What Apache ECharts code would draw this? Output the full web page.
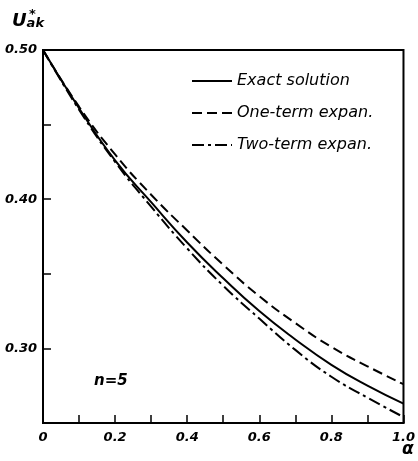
<!DOCTYPE html>
<html><head><meta charset="utf-8">
<script src="https://cdn.jsdelivr.net/npm/echarts@6/dist/echarts.min.js"></script>
<style>html,body{margin:0;padding:0;background:#fff}#c{width:418px;height:461px}</style>
</head><body><div id="c"></div>
<script>
const alpha = [0, 0.1, 0.2, 0.3, 0.4, 0.5, 0.6, 0.7, 0.8, 0.9, 1.0];
const exactSolution = [0.500, 0.461, 0.426, 0.398, 0.371, 0.347, 0.325, 0.306, 0.289, 0.275, 0.263];
const oneTerm = [0.500, 0.462, 0.430, 0.403, 0.379, 0.356, 0.335, 0.317, 0.301, 0.288, 0.276];
const twoTerm = [0.500, 0.460, 0.425, 0.395, 0.367, 0.342, 0.320, 0.299, 0.281, 0.267, 0.254];
const seriesNames = ['Exact solution', 'One-term expan.', 'Two-term expan.'];
const xTickLabels = ['0', '0.2', '0.4', '0.6', '0.8', '1.0'];
const yTickLabels = ['0.30', '0.40', '0.50'];

const font = '"DejaVu Sans", "Liberation Sans", sans-serif';
const pair = (xs, ys) => xs.map((x, i) => [x, ys[i]]);
const chart = echarts.init(document.getElementById('c'));
const tickStyle = { color: '#000', fontFamily: font, fontStyle: 'italic', fontWeight: 'bold', fontSize: 13 };
chart.setOption({
  animation: false,
  backgroundColor: '#fff',
  grid: { left: 43, right: 8, top: 50, bottom: 38, show: true, borderColor: '#000', borderWidth: 2, backgroundColor: 'transparent' },
  legend: {
    orient: 'vertical', left: 186, top: 68, itemWidth: 40, itemHeight: 12, itemGap: 16,
    data: seriesNames,
    itemStyle: { opacity: 0 },
    textStyle: { color: '#000', fontFamily: font, fontStyle: 'italic', fontSize: 16 }
  },
  xAxis: {
    type: 'value', min: 0, max: 1, interval: 0.1,
    axisLine: { lineStyle: { color: '#000', width: 2 } },
    axisTick: { inside: true, length: 8, lineStyle: { color: '#000', width: 1.5 } },
    splitLine: { show: false },
    axisLabel: {
      ...tickStyle, margin: 8,
      formatter: v => { const k = Math.round(v * 10); return k % 2 === 0 ? xTickLabels[k / 2] : ''; }
    }
  },
  yAxis: {
    type: 'value', min: 0.25, max: 0.5, interval: 0.05,
    axisLine: { lineStyle: { color: '#000', width: 2 } },
    axisTick: { inside: true, length: 8, lineStyle: { color: '#000', width: 1.5 } },
    splitLine: { show: false },
    axisLabel: {
      ...tickStyle, margin: 6,
      formatter: v => { const k = Math.round(v * 100); return k % 10 === 0 ? yTickLabels[(k - 30) / 10] : ''; }
    }
  },
  graphic: [
    { type: 'text', left: 12, top: 12, style: { rich: {
        u: { fontFamily: font, fontStyle: 'italic', fontWeight: 'bold', fontSize: 18, fill: '#000' },
        s: { fontFamily: font, fontStyle: 'italic', fontWeight: 'bold', fontSize: 13, fill: '#000', verticalAlign: 'bottom' }
      }, text: '{u|U}{s|ak}', fill: '#000' } },
    { type: 'text', left: 29, top: 8, style: { text: '*', fontFamily: font, fontWeight: 'bold', fontSize: 13, fill: '#000' } },
    { type: 'text', left: 402, top: 441, style: { text: 'α', fontFamily: font, fontStyle: 'italic', fontWeight: 'bold', fontSize: 17, fill: '#000' } },
    { type: 'text', left: 94, top: 374, style: { text: 'n=5', fontFamily: font, fontStyle: 'italic', fontWeight: 'bold', fontSize: 15, fill: '#000' } }
  ],
  series: [
    { name: seriesNames[0], type: 'line', smooth: true, symbol: 'none', data: pair(alpha, exactSolution),
      lineStyle: { color: '#000', width: 2, type: 'solid' }, itemStyle: { color: '#000' } },
    { name: seriesNames[1], type: 'line', smooth: true, symbol: 'none', data: pair(alpha, oneTerm),
      lineStyle: { color: '#000', width: 2, type: [10, 5] }, itemStyle: { color: '#000' } },
    { name: seriesNames[2], type: 'line', smooth: true, symbol: 'none', data: pair(alpha, twoTerm),
      lineStyle: { color: '#000', width: 2, type: [12, 4, 3, 4] }, itemStyle: { color: '#000' } }
  ]
});
</script></body></html>
